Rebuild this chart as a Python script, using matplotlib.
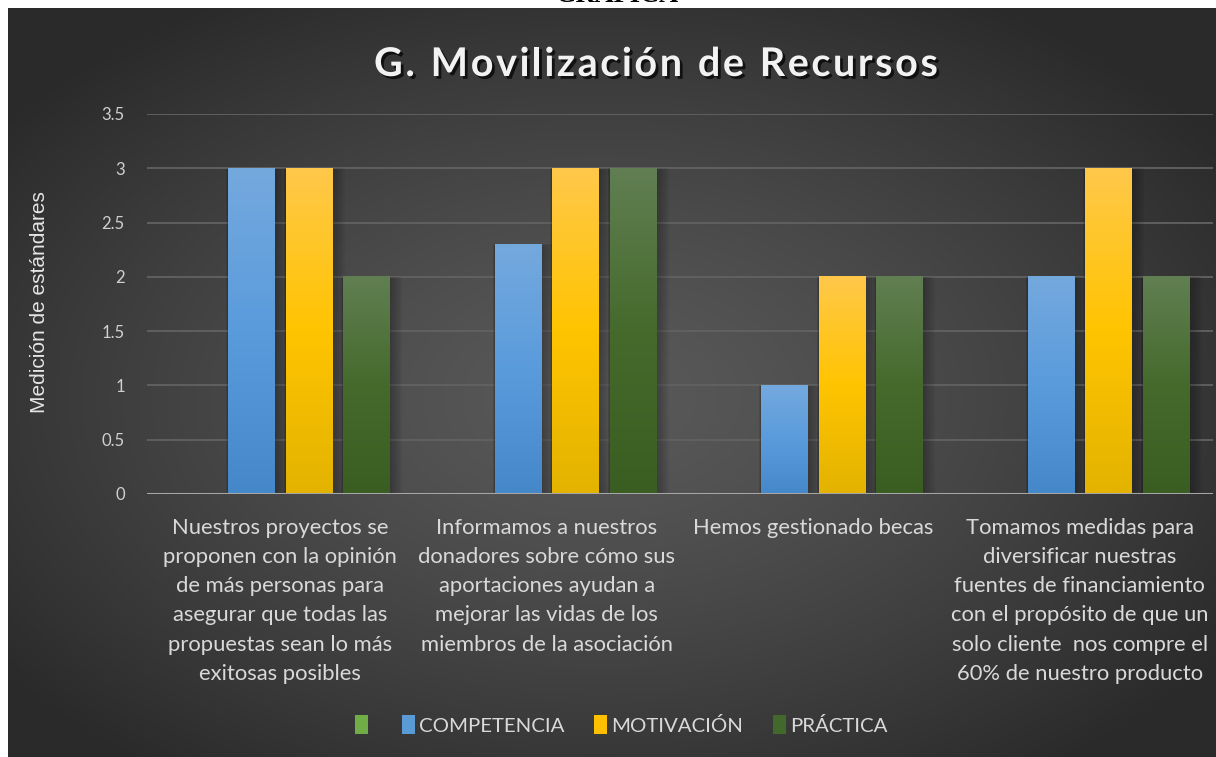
import matplotlib.pyplot as plt
import matplotlib.patheffects as pe
from matplotlib.colors import LinearSegmentedColormap
from matplotlib.patches import Patch, Rectangle
import numpy as np

# -----------------------------
# Data
# -----------------------------
categorias = [
    "Nuestros proyectos se\nproponen con la opinión\nde más personas para\nasegurar que todas las\npropuestas sean lo más\nexitosas posibles",
    "Informamos a nuestros\ndonadores sobre cómo sus\naportaciones ayudan a\nmejorar las vidas de los\nmiembros de la asociación",
    "Hemos gestionado becas",
    "Tomamos medidas para\ndiversificar nuestras\nfuentes de financiamiento\ncon el propósito de que un\nsolo cliente  nos compre el\n60% de nuestro producto",
]
serie_vacia = [0, 0, 0, 0]
competencia = [3, 2.3, 1, 2]
motivacion = [3, 3, 2, 3]
practica = [2, 3, 2, 2]

series = [serie_vacia, competencia, motivacion, practica]
nombres = ["", "COMPETENCIA", "MOTIVACIÓN", "PRÁCTICA"]
y_ticks = [0, 0.5, 1, 1.5, 2, 2.5, 3, 3.5]
titulo = "G. Movilización de Recursos"

# gradient stops per series (top -> bottom)
gradientes = [
    ["#8cc269", "#6aaa3e", "#5e9a35"],
    ["#74a9de", "#5a9bdc", "#4588c9"],
    ["#ffc84a", "#ffc400", "#e3b300"],
    ["#617f52", "#456a2c", "#3a5e21"],
]
leyenda_col = ["#70ad47", "#5b9bd5", "#ffc000", "#43682b"]

W, H = 1216, 757
fig = plt.figure(figsize=(W / 100, H / 100), dpi=100)
fig.patch.set_facecolor("white")

# -----------------------------
# Dark radial background panel
# -----------------------------
bg = fig.add_axes([8 / W, 0, (W - 8) / W, (H - 8) / H])
yy, xx = np.mgrid[0:300, 0:480]
cx, cy = 0.49 * 480, 0.52 * 300
r = np.sqrt(((xx - cx) / 480) ** 2 + ((yy - cy) / 300) ** 2) / 0.62
r = np.clip(r, 0, 1)
shade = 0.35 - 0.185 * r ** 1.3
bg.imshow(np.dstack([shade, shade, shade]), aspect="auto", extent=(0, 1, 0, 1))
bg.set_axis_off()

fig.text(0.508, 1 - 2 / H, "GRÁFICA", ha="center", va="baseline",
         fontsize=19, fontweight="bold", family="Liberation Serif", color="black")

# -----------------------------
# Plot area
# -----------------------------
ax = fig.add_axes([147 / W, (H - 494) / H, (1213 - 147) / W, (494 - 114) / H])
ax.set_facecolor("none")
for s in ax.spines.values():
    s.set_visible(False)

paso = 0.2158
ancho = 0.176
x = np.arange(len(categorias))

for i, valores in enumerate(series):
    cmap = LinearSegmentedColormap.from_list("g%d" % i, gradientes[i][::-1])
    grad = np.linspace(1, 0, 256).reshape(-1, 1)
    for j, v in enumerate(valores):
        if v <= 0:
            continue
        xc = x[j] + (i - 1.5) * paso
        x0, x1 = xc - ancho / 2, xc + ancho / 2
        # soft shadow
        for k in range(6):
            d = 0.004 * (k + 1)
            ax.add_patch(Rectangle((x0 - d * 0.3, -0.03), ancho + d * 2.2, v + 0.02 + d * 0.5,
                                   facecolor="black", alpha=0.045, lw=0, zorder=2))
        ax.imshow(grad, cmap=cmap, extent=(x0, x1, 0, v), aspect="auto",
                  zorder=3, interpolation="bilinear")

ax.set_xlim(-0.5, 3.5)
ax.set_ylim(0, 3.5)
ax.set_yticks(y_ticks)
ax.set_yticklabels(["%g" % t for t in y_ticks])
ax.yaxis.grid(True, color="#626262", lw=1.3, zorder=0)
ax.set_axisbelow(True)
ax.axhline(0, color="#a6a6a6", lw=2.2, zorder=4)

ax.set_xticks(x)
ax.set_xticklabels(categorias, fontsize=15.8, family="Lato", color="#d9d9d9",
                   linespacing=1.58)
ax.tick_params(axis="x", length=0, pad=17)
ax.tick_params(axis="y", length=0, pad=16, labelsize=12, labelcolor="#d0d0d0")
for t in ax.get_yticklabels():
    t.set_family("Lato")

fig.text(40 / W, 1 - 302 / H, "Medición de estándares", rotation=90,
         ha="center", va="center", fontsize=15, family="Liberation Sans", color="#e6e6e6")

# -----------------------------
# Title with letter spacing
# -----------------------------
renderer = fig.canvas.get_renderer()
t_kw = dict(fontsize=28.5, fontweight="bold", family="Lato", color="#f2f2f2", va="baseline",
            path_effects=[pe.withSimplePatchShadow(offset=(2, -2), shadow_rgbFace="black", alpha=0.7)])
tracking = 2.5  # px between letters
anchos = []
for ch in titulo:
    tmp = fig.text(0, 0, ch if ch != " " else "n", **t_kw)
    w = tmp.get_window_extent(renderer).width
    if ch == " ":
        w *= 0.48
    anchos.append(w)
    tmp.remove()
total = sum(anchos) + tracking * (len(titulo) - 1)
xpos = 656 - total / 2
for ch, w in zip(titulo, anchos):
    if ch != " ":
        fig.text(xpos / W, 1 - 76 / H, ch, ha="left", **t_kw)
    xpos += w + tracking

# -----------------------------
# Legend
# -----------------------------
handles = [Patch(facecolor=c, edgecolor="none") for c in leyenda_col]
leg = fig.legend(handles, nombres, loc="center", bbox_to_anchor=(621 / W, 1 - 725 / H),
                 ncol=4, frameon=False, fontsize=14.7, handlelength=0.65, handleheight=1.0,
                 handletextpad=0.2, columnspacing=1.45)
for t in leg.get_texts():
    t.set_color("#d9d9d9")
    t.set_family("Lato")

fig.savefig("out.png", dpi=100, facecolor="white")
